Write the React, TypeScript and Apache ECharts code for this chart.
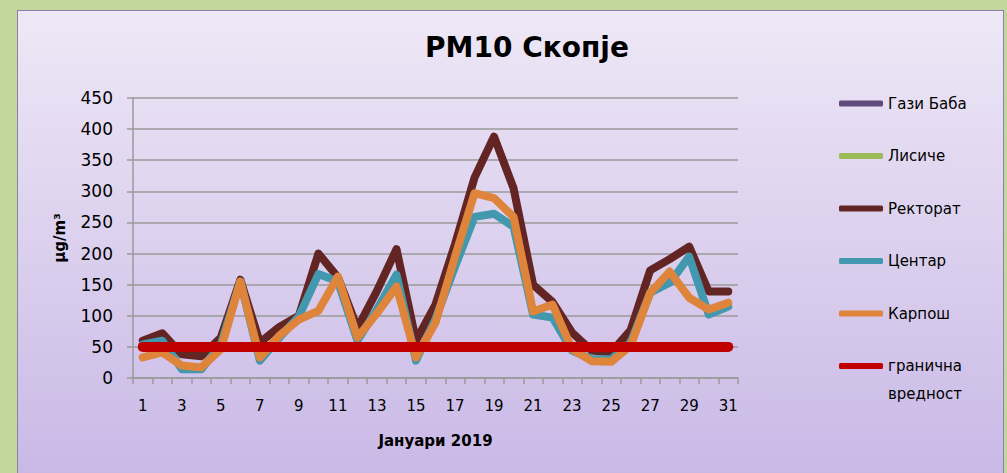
import React, { useEffect, useRef } from "react";
import * as echarts from "echarts";

const days = ["1","2","3","4","5","6","7","8","9","10","11","12","13","14","15","16","17","18","19","20","21","22","23","24","25","26","27","28","29","30","31"];

const seriesNames = ["Гази Баба", "Лисиче", "Ректорат", "Центар", "Карпош", "гранична вредност"];

const gaziBaba: (number | null)[] = [];
const lisice: (number | null)[] = [];
const rektorat = [60, 72, 38, 35, 65, 158, 57, 82, 100, 200, 162, 80, 140, 207, 60, 118, 215, 322, 388, 305, 150, 122, 73, 44, 41, 77, 173, 191, 211, 139, 139];
const centar = [54, 60, 14, 14, 54, 155, 28, 65, 99, 167, 155, 60, 110, 166, 28, 95, 179, 259, 264, 243, 102, 97, 44, 30, 30, 57, 137, 153, 195, 102, 115];
const karpos = [33, 41, 20, 17, 46, 155, 33, 68, 94, 108, 163, 65, 104, 147, 33, 89, 195, 297, 289, 259, 107, 118, 46, 27, 26, 52, 137, 171, 129, 110, 121];
const granica = [50, 50, 50, 50, 50, 50, 50, 50, 50, 50, 50, 50, 50, 50, 50, 50, 50, 50, 50, 50, 50, 50, 50, 50, 50, 50, 50, 50, 50, 50, 50];

const colors = ["#604A7B", "#9BBB59", "#632523", "#4198AF", "#DE843B", "#C00000"];
const widths = [8, 8, 8, 8, 8, 10];
const seriesData = [gaziBaba, lisice, rektorat, centar, karpos, granica];

const FONT = "DejaVu Sans";

export default function App() {
  const ref = useRef<HTMLDivElement>(null);
  useEffect(() => {
    if (!ref.current) return;
    const chart = echarts.init(ref.current, undefined, { renderer: "svg" });
    chart.setOption({
      animation: false,
      backgroundColor: {
        type: "linear", x: 0, y: 0, x2: 0, y2: 1,
        colorStops: [
          { offset: 0, color: "#EEE8F6" },
          { offset: 1, color: "#C9B8E6" },
        ],
      },
      title: {
        text: "PM10 Скопје",
        left: 504,
        top: 17,
        textAlign: "center",
        textStyle: { fontFamily: FONT, fontWeight: "bold", fontSize: 28, color: "#000" },
      },
      grid: { left: 115, top: 87, right: 265, bottom: 101, containLabel: false },
      legend: {
        orient: "vertical",
        left: 816,
        top: 75,
        itemWidth: 44,
        itemHeight: 6,
        itemGap: 27.5,
        icon: "roundRect",
        data: seriesNames,
        formatter: (n: string) => n.split(" вредност")[0],
        textStyle: { fontFamily: FONT, fontSize: 15, color: "#000", lineHeight: 25 },
      },
      graphic: [
        {
          type: "text",
          left: 870,
          top: 375,
          style: { text: "вредност", fontFamily: FONT, fontSize: 15, fill: "#000" },
        },
      ],
      xAxis: {
        type: "category",
        data: days,
        boundaryGap: true,
        name: "Јануари 2019",
        nameLocation: "middle",
        nameGap: 55,
        nameTextStyle: { fontFamily: FONT, fontWeight: "bold", fontSize: 15, color: "#000" },
        axisLine: { lineStyle: { color: "#9A9A9A", width: 1.5 } },
        axisTick: { show: true, interval: 0, length: 6, lineStyle: { color: "#9A9A9A", width: 1.5 } },
        axisLabel: { interval: 1, margin: 20, fontFamily: FONT, fontSize: 15, color: "#000" },
      },
      yAxis: {
        type: "value",
        min: 0,
        max: 450,
        interval: 50,
        name: "μg/m³",
        nameLocation: "middle",
        nameGap: 66,
        nameRotate: 90,
        nameTextStyle: { fontFamily: FONT, fontWeight: "bold", fontSize: 15, color: "#000" },
        axisLine: { show: true, lineStyle: { color: "#9A9A9A", width: 1.5 } },
        axisTick: { show: true, length: 6, lineStyle: { color: "#9A9A9A", width: 1.5 } },
        splitLine: { lineStyle: { color: "#9A9A9A", width: 1.5 } },
        axisLabel: { margin: 20, fontFamily: FONT, fontSize: 17, color: "#000" },
      },
      series: seriesNames.map((name, i) => ({
        name,
        type: "line",
        data: seriesData[i],
        symbol: "none",
        color: colors[i],
        lineStyle: { color: colors[i], width: widths[i], cap: "round", join: "round" },
        z: 2 + i,
      })),
    });
    return () => chart.dispose();
  }, []);
  return (
    <div style={{ position: "absolute", left: 0, top: 0, width: 1007, height: 473, background: "#C3D69B", overflow: "hidden" }}>
      <div
        ref={ref}
        style={{ position: "absolute", left: 17, top: 10, width: 987, height: 470, boxSizing: "border-box", border: "1.5px solid #8A82AA" }}
      />
    </div>
  );
}
